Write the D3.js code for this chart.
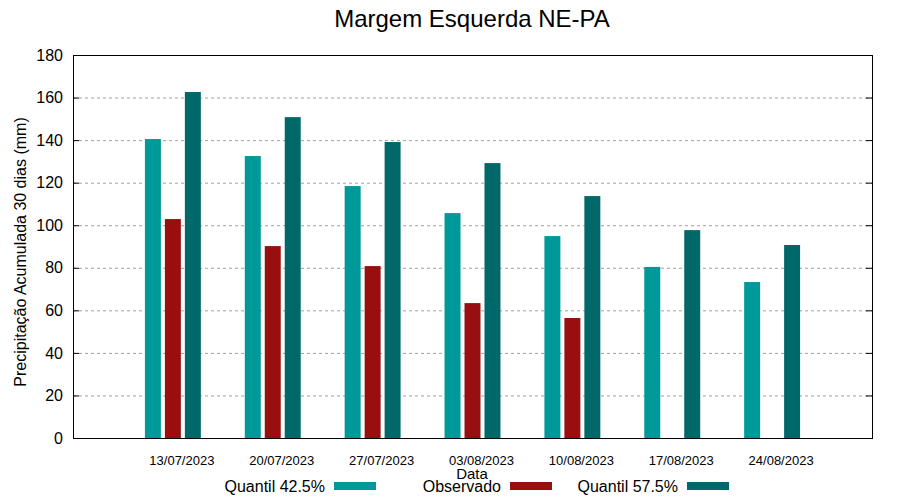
<!DOCTYPE html>
<html>
<head>
<meta charset="utf-8">
<script src="https://cdn.jsdelivr.net/npm/d3@7"></script>
<style>
body { margin: 0; background: #fff; }
text { font-family: "Liberation Sans", Arial, sans-serif; }
</style>
</head>
<body>
<svg id="chart" width="900" height="500"></svg>
<script>
var dates = ['13/07/2023', '20/07/2023', '27/07/2023', '03/08/2023', '10/08/2023', '17/08/2023', '24/08/2023'];
var q425 = [140.5, 132.5, 118.4, 105.7, 94.9, 80.4, 73.3];
var observado = [102.9, 90.2, 80.8, 63.4, 56.4, null, null];
var q575 = [162.6, 150.8, 139.1, 129.2, 113.7, 97.7, 90.7];
var yTicks = [0, 20, 40, 60, 80, 100, 120, 140, 160, 180];

var series = [
	{ name: 'Quantil 42.5%', values: q425, color: '#009999', offset: -0.2 },
	{ name: 'Observado', values: observado, color: '#990f0f', offset: 0 },
	{ name: 'Quantil 57.5%', values: q575, color: '#006868', offset: 0.2 }
];

var svg = d3.select('#chart');
var plotL = 73, plotR = 872, plotT = 55, plotB = 438;

var x = d3.scaleLinear().domain([0, dates.length + 1]).range([plotL, plotR]);
var y = d3.scaleLinear().domain([0, 180]).range([plotB, plotT]);
var barW = 0.16;

// grid
svg.append('g').selectAll('line')
	.data(yTicks.slice(1, -1))
	.enter().append('line')
	.attr('x1', plotL).attr('x2', plotR)
	.attr('y1', function(d){ return y(d) + 0.5; })
	.attr('y2', function(d){ return y(d) + 0.5; })
	.attr('stroke', '#a0a0a0')
	.attr('stroke-width', 1)
	.attr('stroke-dasharray', '3,3');

// bars
series.forEach(function(s){
	svg.append('g').selectAll('rect')
		.data(s.values.map(function(v, i){ return { v: v, i: i }; }).filter(function(d){ return d.v != null; }))
		.enter().append('rect')
		.attr('x', function(d){ return x(d.i + 1 + s.offset - barW / 2); })
		.attr('width', x(barW) - x(0))
		.attr('y', function(d){ return y(d.v); })
		.attr('height', function(d){ return y(0) - y(d.v); })
		.attr('fill', s.color);
});

// y axis left and right (ticks inside)
var yAxisL = d3.axisLeft(y).tickValues(yTicks).tickSize(-6).tickPadding(10);
var gL = svg.append('g').attr('transform', 'translate(' + plotL + ',0)').call(yAxisL);
gL.select('.domain').remove();
gL.selectAll('text').attr('font-size', 16).attr('font-family', '"Liberation Sans", Arial, sans-serif').attr('fill', '#000');
gL.selectAll('line').attr('stroke', '#000');

var yAxisR = d3.axisRight(y).tickValues(yTicks).tickSize(-6).tickFormat('');
var gR = svg.append('g').attr('transform', 'translate(' + plotR + ',0)').call(yAxisR);
gR.select('.domain').remove();
gR.selectAll('line').attr('stroke', '#000');

// frame
svg.append('rect')
	.attr('x', plotL + 0.5).attr('y', plotT + 0.5)
	.attr('width', plotR - plotL).attr('height', plotB - plotT)
	.attr('fill', 'none').attr('stroke', '#000').attr('stroke-width', 1);

// x labels
svg.append('g').selectAll('text')
	.data(dates)
	.enter().append('text')
	.attr('x', function(d, i){ return x(i + 1) + 9; })
	.attr('y', 465)
	.attr('text-anchor', 'middle')
	.attr('font-size', 13)
	.text(function(d){ return d; });

// titles
svg.append('text').attr('x', 472).attr('y', 27).attr('text-anchor', 'middle')
	.attr('font-size', 24).text('Margem Esquerda NE-PA');
svg.append('text').attr('x', 472).attr('y', 479).attr('text-anchor', 'middle')
	.attr('font-size', 15).text('Data');
svg.append('text')
	.attr('transform', 'translate(26,252) rotate(-90)')
	.attr('text-anchor', 'middle')
	.attr('font-size', 16)
	.text('Precipitação Acumulada 30 dias (mm)');

// legend
var legendX = [325, 501, 678];
series.forEach(function(s, i){
	svg.append('text').attr('x', legendX[i]).attr('y', 492)
		.attr('text-anchor', 'end').attr('font-size', 16).text(s.name);
	svg.append('rect').attr('x', legendX[i] + 9).attr('y', 482)
		.attr('width', 42).attr('height', 8).attr('fill', s.color);
});
</script>
</body>
</html>
